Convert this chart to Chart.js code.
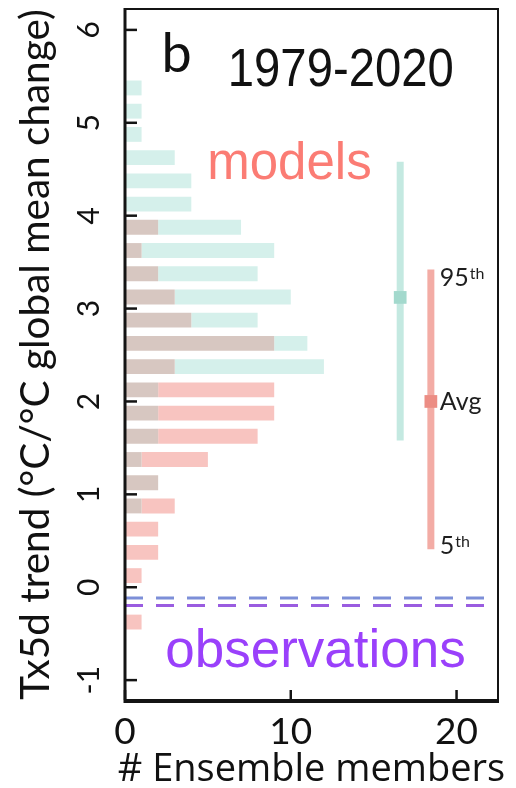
<!DOCTYPE html>
<html>
<head>
<meta charset="utf-8">
<title>Tx5d trend histogram</title>
<script src="https://cdn.jsdelivr.net/npm/chart.js@4/dist/chart.umd.min.js"></script>
<style>
  html, body { margin: 0; padding: 0; background: #ffffff; }
  #c { display: block; }
</style>
</head>
<body>
<canvas id="c" width="516" height="788"></canvas>
<script>
// Histogram bins (°C/°C), 0.25 wide, given by their centres
const binCenters = [5.375, 5.125, 4.875, 4.625, 4.375, 4.125, 3.875, 3.625, 3.375, 3.125, 2.875, 2.625,
                    2.375, 2.125, 1.875, 1.625, 1.375, 1.125, 0.875, 0.625, 0.375, 0.125, -0.125, -0.375];
// Ensemble member counts per bin for the two model ensembles
const tealCounts = [1, 1, 1, 3, 4, 4, 7, 9, 8, 10, 8, 11, 12, 2, 2, 2, 1, 2, 1, 0, 0, 0, 0, 0];
const redCounts  = [0, 0, 0, 0, 0, 0, 2, 1, 2, 3, 4, 9, 3, 9, 9, 8, 5, 2, 3, 2, 2, 1, 0, 1];
// Ensemble spread: [5th percentile, average, 95th percentile]
const tealRange = [1.58, 3.12, 4.58];
const redRange  = [0.41, 2.00, 3.42];
// Horizontal positions (# members axis) of the two spread bars
const rangeX = [16.6, 18.45];
// Observed trends (dashed lines)
const obsTrends = [-0.115, -0.196];
// Axes
const xTicks = [0, 10, 20];
const yTicks = [-1, 0, 1, 2, 3, 4, 5, 6];
const xLimits = [0, 22.5];
const yLimits = [-1.214, 6.225];
const xTitle = '# Ensemble members';
const yTitle = 'Tx5d trend (°C/°C global mean change)';

const overlap = binCenters.map((c, i) => ({ x: Math.min(tealCounts[i], redCounts[i]), y: c }));
const tealOnly = binCenters.map((c, i) => ({ x: Math.max(tealCounts[i] - redCounts[i], 0), y: c }));
const redOnly = binCenters.map((c, i) => ({ x: Math.max(redCounts[i] - tealCounts[i], 0), y: c }));

const C_TEAL_BAR = '#d5f0eb', C_RED_BAR = '#f8c4c0', C_MIX_BAR = '#d7c7c1';
const C_TEAL_LINE = '#c4e9e1', C_TEAL_MARK = '#a3d9cd';
const C_RED_LINE = '#f3aca5', C_RED_MARK = '#ec8d84';

const barCommon = { type: 'bar', indexAxis: 'y', grouped: false, barPercentage: 0.64, categoryPercentage: 1, borderWidth: 0, order: 3 };

function vline(xv, r, color) {
  return { type: 'line', data: [{ x: xv, y: r[0] }, { x: xv, y: r[2] }], borderColor: color, borderWidth: 7,
           borderCapStyle: 'butt', pointRadius: 0, fill: false, order: 2 };
}
function marker(xv, r, color) {
  return { type: 'line', data: [{ x: xv, y: r[1] }], showLine: false, pointStyle: 'rect', pointRadius: 9,
           pointBackgroundColor: color, pointBorderWidth: 0, order: 1 };
}
function hline(yv, color) {
  return { type: 'line', data: [{ x: xLimits[0], y: yv }, { x: xLimits[1], y: yv }], borderColor: color,
           borderWidth: 3, borderDash: [18, 13], pointRadius: 0, fill: false, order: 2 };
}

function noPad(s) { s.paddingTop = 0; s.paddingBottom = 0; s.paddingLeft = 0; s.paddingRight = 0; }

const decorations = {
  id: 'decorations',
  afterDraw(chart) {
    const { ctx, chartArea: a, scales: { x, y } } = chart;
    ctx.save();
    ctx.strokeStyle = '#141414';
    ctx.lineCap = 'butt';
    // inward tick marks
    ctx.lineWidth = 2.5;
    yTicks.forEach(v => {
      const py = y.getPixelForValue(v);
      ctx.beginPath(); ctx.moveTo(a.left, py); ctx.lineTo(a.left + 12, py); ctx.stroke();
    });
    xTicks.forEach(v => {
      const px = x.getPixelForValue(v);
      ctx.beginPath(); ctx.moveTo(px, a.bottom); ctx.lineTo(px, a.bottom - 10); ctx.stroke();
    });
    // frame
    ctx.lineWidth = 2;
    ctx.strokeRect(a.left, a.top, a.right - a.left, a.bottom - a.top);
    ctx.lineWidth = 3;
    ctx.beginPath(); ctx.moveTo(a.left, a.top - 1); ctx.lineTo(a.left, a.bottom + 1.5); ctx.lineTo(a.right + 1, a.bottom + 1.5); ctx.stroke();

    // x-axis title, wider than the plot area
    ctx.fillStyle = '#111111';
    ctx.textAlign = 'center';
    ctx.textBaseline = 'alphabetic';
    ctx.font = '38px "Open Sans"';
    ctx.fillText(xTitle, (a.left + a.right) / 2, 781, 402);

    // panel letter and period
    ctx.textAlign = 'left';
    ctx.font = '54px Lato';
    ctx.fillText('b', x.getPixelForValue(2.2), y.getPixelForValue(5.54) - 1);
    ctx.font = '53px "Liberation Sans"';
    ctx.fillText('1979-2020', x.getPixelForValue(6.2), y.getPixelForValue(5.378) - 2, 226);

    ctx.fillStyle = '#fb7c74';
    ctx.font = '51px "Liberation Sans"';
    ctx.fillText('models', x.getPixelForValue(4.96), y.getPixelForValue(4.392), 168);
    ctx.fillStyle = '#9a40fb';
    ctx.font = '53px "Liberation Sans"';
    ctx.fillText('observations', x.getPixelForValue(2.43), y.getPixelForValue(-0.86), 302);

    // percentile labels beside the red spread bar
    const lx = x.getPixelForValue(rangeX[1]) + 9;
    ctx.fillStyle = '#1e1e1e';
    ctx.font = '25px Lato';
    let py = y.getPixelForValue(redRange[2]) + 16;
    ctx.fillText('95', lx, py);
    let w = ctx.measureText('95').width;
    ctx.font = '16px Lato';
    ctx.fillText('th', lx + w + 1, py - 7);
    ctx.font = '25px Lato';
    ctx.fillText('Avg', lx, y.getPixelForValue(redRange[1]) + 9);
    py = y.getPixelForValue(redRange[0]) + 5;
    ctx.fillText('5', lx, py);
    w = ctx.measureText('5').width;
    ctx.font = '16px Lato';
    ctx.fillText('th', lx + w + 1, py - 7);
    ctx.restore();
  }
};

new Chart(document.getElementById('c'), {
  type: 'bar',
  data: {
    datasets: [
      marker(rangeX[0], tealRange, C_TEAL_MARK),
      marker(rangeX[1], redRange, C_RED_MARK),
      vline(rangeX[0], tealRange, C_TEAL_LINE),
      vline(rangeX[1], redRange, C_RED_LINE),
      hline(obsTrends[0], '#7d8fd8'),
      hline(obsTrends[1], '#9a5ce0'),
      Object.assign({ data: overlap, backgroundColor: C_MIX_BAR }, barCommon),
      Object.assign({ data: tealOnly, backgroundColor: C_TEAL_BAR }, barCommon),
      Object.assign({ data: redOnly, backgroundColor: C_RED_BAR }, barCommon)
    ]
  },
  options: {
    responsive: false,
    animation: false,
    layout: { padding: { top: 6, right: 18, left: 0, bottom: 0 } },
    plugins: { legend: { display: false }, tooltip: { enabled: false } },
    scales: {
      x: {
        type: 'linear', position: 'bottom', stacked: true, offset: false,
        min: xLimits[0], max: xLimits[1],
        afterBuildTicks: s => { s.ticks = xTicks.map(v => ({ value: v })); },
        afterFit: s => { s.height = 88; noPad(s); },
        grid: { display: false, drawTicks: false, offset: false },
        border: { display: false },
        ticks: { font: { family: 'Lato', size: 37 }, color: '#111', padding: 10, maxRotation: 0 },
        title: { display: false }
      },
      y: {
        type: 'linear', position: 'left', offset: false,
        min: yLimits[0], max: yLimits[1],
        afterBuildTicks: s => { s.ticks = yTicks.map(v => ({ value: v })); },
        afterFit: s => { s.width = 125; noPad(s); },
        grid: { display: false, drawTicks: false, offset: false },
        border: { display: false },
        ticks: { font: { family: 'Lato', size: 30 }, color: '#111', padding: 21, minRotation: 90, maxRotation: 90,
                 crossAlign: 'center' },
        title: { display: true, text: yTitle, font: { family: 'Lato', size: 40.5 },
                 color: '#111', padding: { top: 12, bottom: 0 } }
      }
    }
  },
  plugins: [decorations]
});
</script>
</body>
</html>
